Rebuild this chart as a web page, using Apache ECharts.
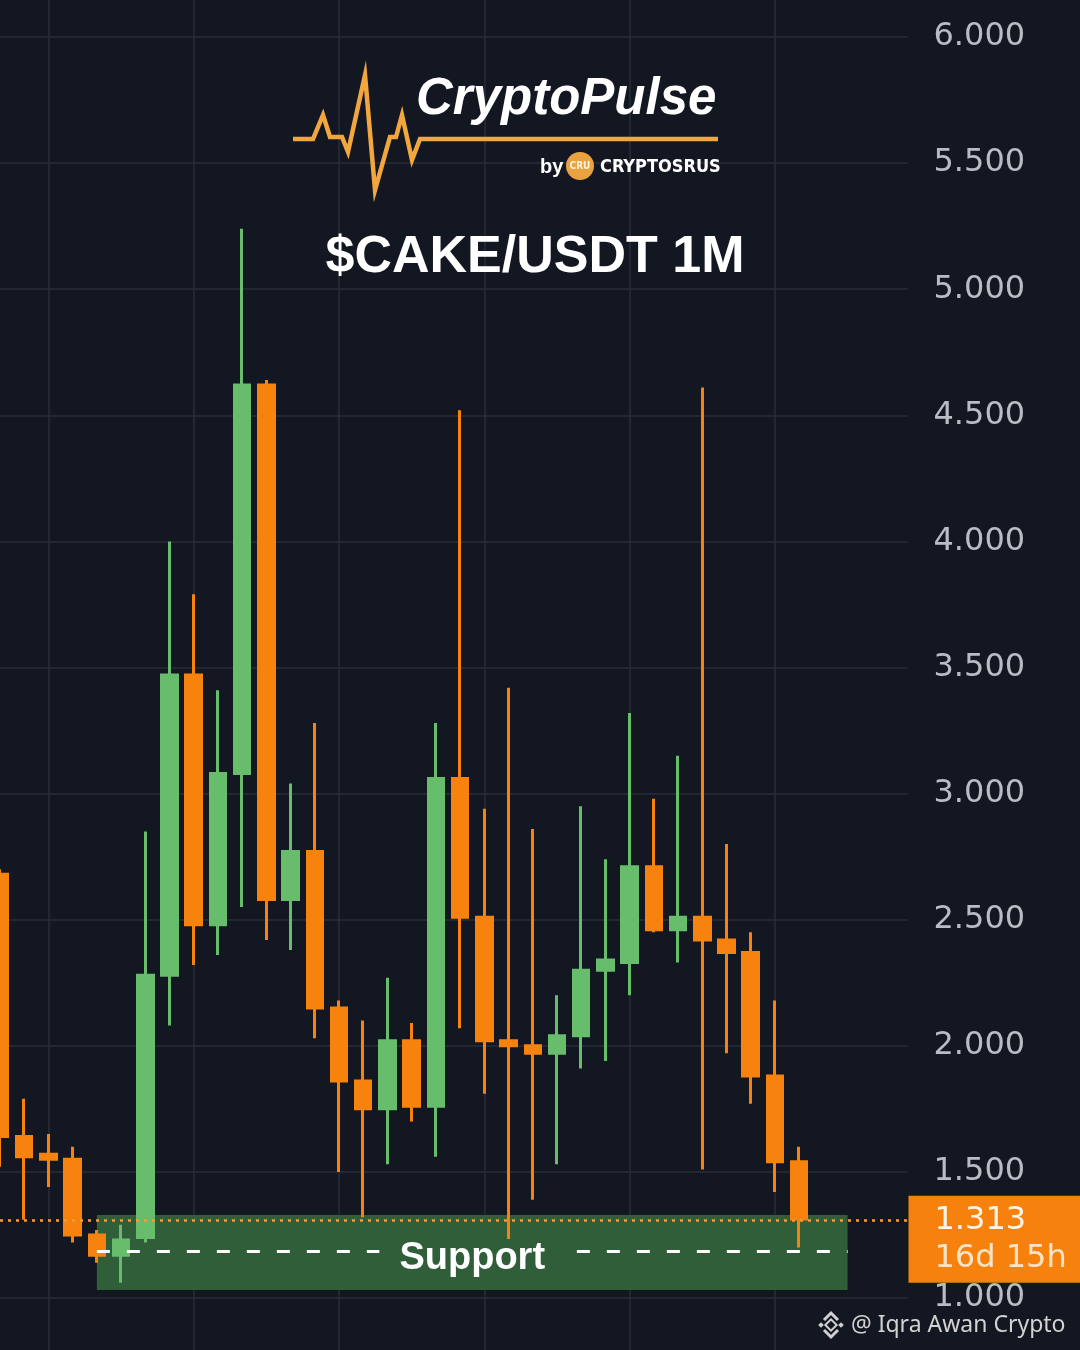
<!DOCTYPE html>
<html><head><meta charset="utf-8">
<script src="https://cdn.jsdelivr.net/npm/echarts@6/dist/echarts.min.js"></script>
<style>html,body{margin:0;padding:0;background:#131722;}#c{width:1080px;height:1350px;}</style>
</head><body><div id="c"></div>
<script>
// ---- data (monthly candles) ----
const categories = ['01','02','03','04','05','06','07','08','09','10','11','12','13','14','15','16','17','18','19','20','21','22','23','24','25','26','27','28','29','30','31','32','33','34','35','36','37','38'];
const openP  = [2.68,1.64,1.57,1.55,1.25,1.17,1.24,2.28,3.47,2.48,3.08,4.62,2.58,2.77,2.15,1.86,1.75,2.02,1.76,3.06,2.51,2.02,2.00,1.97,2.04,2.30,2.33,2.71,2.46,2.51,2.42,2.37,1.88,1.54];
const closeP = [1.64,1.56,1.55,1.25,1.17,1.23,2.28,3.47,2.48,3.08,4.62,2.58,2.77,2.15,1.86,1.75,2.02,1.76,3.06,2.51,2.02,2.00,1.97,2.04,2.30,2.34,2.71,2.46,2.51,2.42,2.37,1.88,1.54,1.313];
const lowP   = [1.52,1.31,1.44,1.22,1.14,1.06,1.22,2.08,2.32,2.36,2.55,2.42,2.38,2.03,1.50,1.32,1.53,1.70,1.56,2.07,1.81,1.21,1.39,1.53,1.91,1.94,2.20,2.45,2.33,1.51,1.97,1.77,1.42,1.20];
const highP  = [2.70,1.79,1.65,1.60,1.27,1.29,2.85,4.00,3.79,3.41,5.24,4.64,3.04,3.28,2.18,2.10,2.27,2.09,3.28,4.52,2.94,3.42,2.86,2.20,2.95,2.74,3.32,2.98,3.15,4.61,2.80,2.45,2.18,1.60];
const yMin = 1.0, yMax = 6.0, yStep = 0.5;
const lastPrice = 1.313;
const countdown = '16d 15h';
const supportTop = 1.329;
const supportBottom = 1.032;
const supportLevel = 1.186;
const supportFrom = '05';
const supportTo = '36';
const titleText = '$CAKE/USDT 1M';
const watermark = '@ Iqra Awan Crypto';

const GREEN = '#67bd6b', ORANGE = '#f7820e', GRID = '#2a2e39', BG = '#131722', BOX = '#2f5e38';
const candleData = openP.map((o, i) => [o, closeP[i], lowP[i], highP[i]]);

const chart = echarts.init(document.getElementById('c'), null, {renderer: 'canvas'});
const pulse = [[293,139],[313,139],[323,115],[330,137],[342,137],[348,152],[365,75],[375,190],[390,137],[396,137],[402,115],[412,160],[420,139],[718,139]];

chart.setOption({
  backgroundColor: BG,
  animation: false,
  grid: [
    {left: 0, right: 184, top: 37, bottom: 52},
    {left: 48.4, width: 726.5, top: 0, bottom: 0},
    {left: 0, right: 172.5, top: 37, bottom: 52}
  ],
  xAxis: [
    {type: 'category', data: categories, gridIndex: 0, boundaryGap: false,
     axisLine: {show: false}, axisTick: {show: false}, axisLabel: {show: false}, splitLine: {show: false}},
    {type: 'value', gridIndex: 1, min: 0, max: 30, interval: 6,
     axisLine: {show: false}, axisTick: {show: false}, axisLabel: {show: false},
     splitLine: {show: true, lineStyle: {color: GRID, width: 1.5}}},
    {type: 'value', gridIndex: 2, min: 0, max: 1, show: false}
  ],
  yAxis: [
    {type: 'value', gridIndex: 0, min: yMin, max: yMax, show: false},
    {type: 'value', gridIndex: 1, min: 0, max: 1, show: false},
    {type: 'value', gridIndex: 2, position: 'right', min: yMin, max: yMax, interval: yStep,
     axisLine: {show: false}, axisTick: {show: false},
     axisLabel: {color: '#b9bcc4', fontSize: 32, fontFamily: 'DejaVu Sans', margin: 26, formatter: v => v.toFixed(3)},
     splitLine: {lineStyle: {color: GRID, width: 1.5}}}
  ],
  series: [{
    type: 'candlestick',
    xAxisIndex: 0, yAxisIndex: 0,
    data: candleData,
    barWidth: 16,
    clip: false,
    itemStyle: {color: GREEN, color0: ORANGE, borderColor: GREEN, borderColor0: ORANGE, borderWidth: 3},
    markArea: {
      silent: true,
      itemStyle: {color: BOX},
      data: [[{xAxis: supportFrom, yAxis: supportTop}, {xAxis: supportTo, yAxis: supportBottom}]]
    },
    markLine: {
      silent: true,
      symbol: ['none', 'none'],
      data: [
        [{xAxis: supportFrom, yAxis: supportLevel,
          lineStyle: {color: '#ffffff', type: [13, 17], width: 3},
          label: {show: true, position: 'middle', offset: [0, 31], formatter: 'Support', color: '#ffffff', fontSize: 38,
                  fontWeight: 'bold', fontFamily: 'Liberation Sans', backgroundColor: BOX, padding: [0, 20, 0, 20]}},
         {xAxis: supportTo, yAxis: supportLevel}]
      ]
    }
  }, {
    type: 'line',
    xAxisIndex: 2, yAxisIndex: 2,
    data: [],
    markLine: {
      silent: true,
      symbol: ['none', 'none'],
      data: [
        {yAxis: lastPrice,
         lineStyle: {color: '#f39a3a', type: [3, 5], width: 2.5},
         label: {show: true, position: 'end', distance: 1, offset: [0, 19.5],
                 formatter: '{a|' + lastPrice.toFixed(3) + '}\n{b|' + countdown + '}',
                 backgroundColor: '#f6820d', padding: [6, 40, 5, 26], align: 'left',
                 rich: {a: {color: '#fff4ea', fontSize: 32, lineHeight: 38, fontFamily: 'DejaVu Sans'},
                        b: {color: '#fde3c8', fontSize: 32, lineHeight: 38, fontFamily: 'DejaVu Sans'}}}}
      ]
    }
  }],
  graphic: [
    {type: 'polyline', shape: {points: pulse}, style: {stroke: '#f2a63e', lineWidth: 4.5, fill: null, lineJoin: 'miter'}, z: 10},
    {type: 'text', x: 416, y: 100, style: {text: 'CryptoPulse', fill: '#ffffff', font: 'italic bold 51px "Liberation Sans"', textVerticalAlign: 'middle'}, z: 10},
    {type: 'text', x: 540, y: 167, style: {text: 'by', fill: '#ffffff', font: 'bold 20px "Liberation Sans"', textVerticalAlign: 'middle'}, z: 10},
    {type: 'circle', shape: {cx: 580, cy: 166, r: 14}, style: {fill: '#e9a23f'}, z: 10},
    {type: 'text', x: 580, y: 166, style: {text: 'CRU', fill: '#fff3dd', font: 'bold 10px "DejaVu Sans Condensed"', textAlign: 'center', textVerticalAlign: 'middle'}, z: 11},
    {type: 'text', x: 600, y: 167, style: {text: 'CRYPTOSRUS', fill: '#ffffff', font: 'bold 18px "DejaVu Sans Condensed"', textVerticalAlign: 'middle'}, z: 10},
    {type: 'text', x: 535, y: 258, style: {text: titleText, fill: '#ffffff', font: 'bold 52px "Liberation Sans"', textAlign: 'center', textVerticalAlign: 'middle'}, z: 10},
    {type: 'rect', x: 831, y: 1325, shape: {x: -4, y: -4, width: 8, height: 8}, rotation: Math.PI/4, style: {fill: null, stroke: '#d0d0d0', lineWidth: 2}, z: 10},
    {type: 'rect', x: 821, y: 1325, shape: {x: -2, y: -2, width: 4, height: 4}, rotation: Math.PI/4, style: {fill: '#d0d0d0'}, z: 10},
    {type: 'rect', x: 841, y: 1325, shape: {x: -2, y: -2, width: 4, height: 4}, rotation: Math.PI/4, style: {fill: '#d0d0d0'}, z: 10},
    {type: 'polyline', shape: {points: [[824,1320],[831,1313],[838,1320]]}, style: {stroke: '#d0d0d0', lineWidth: 3, fill: null}, z: 10},
    {type: 'polyline', shape: {points: [[824,1330],[831,1337],[838,1330]]}, style: {stroke: '#d0d0d0', lineWidth: 3, fill: null}, z: 10},
    {type: 'text', x: 851, y: 1325, style: {text: watermark, fill: '#d2d2d2', font: '23px "Noto Sans"', textVerticalAlign: 'middle'}, z: 10}
  ]
});
</script></body></html>
